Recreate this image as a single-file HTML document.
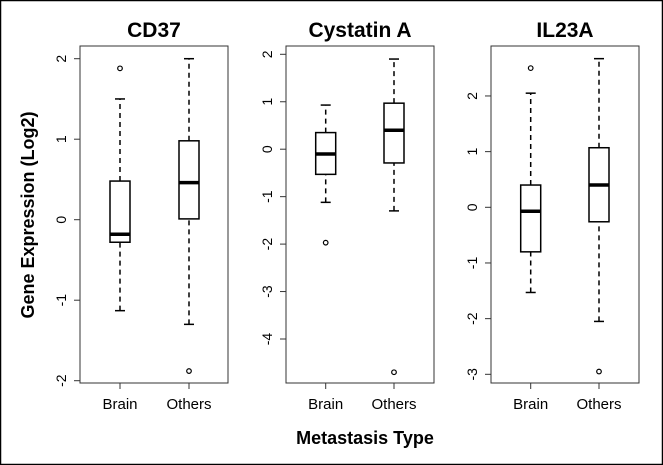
<!DOCTYPE html>
<html><head><meta charset="utf-8"><style>
html,body{margin:0;padding:0;background:#fff}
svg{display:block}
text{font-family:"Liberation Sans",sans-serif}
</style></head><body>
<svg id="c" width="663" height="465" viewBox="0 0 663 465" xmlns="http://www.w3.org/2000/svg">
<rect x="0.5" y="0.5" width="662" height="464" fill="#fff" stroke="#000" stroke-width="1.5"/>
<text x="34" y="215" transform="rotate(-90 34 215)" text-anchor="middle" font-size="18" font-weight="bold">Gene Expression (Log2)</text>
<text x="365" y="444" text-anchor="middle" font-size="18" font-weight="bold">Metastasis Type</text>
</svg>
<script>
const categories = ["Brain", "Others"];
const titles = ["CD37", "Cystatin A", "IL23A"];
const ticksCD37 = [-2, -1, 0, 1, 2];
const ticksCYS = [-4, -3, -2, -1, 0, 1, 2];
const ticksIL = [-3, -2, -1, 0, 1, 2];
// [lowWhisker, Q1, median, Q3, highWhisker]
const statsCD37 = [[-1.13, -0.28, -0.18, 0.48, 1.5], [-1.3, 0.01, 0.46, 0.98, 2.0]];
const statsCYS = [[-1.12, -0.53, -0.1, 0.35, 0.93], [-1.3, -0.29, 0.4, 0.97, 1.9]];
const statsIL = [[-1.53, -0.8, -0.07, 0.4, 2.05], [-2.05, -0.26, 0.4, 1.07, 2.67]];
const outCD37 = [[1.88], [-1.88]];
const outCYS = [[-1.97], [-4.7]];
const outIL = [[2.5], [-2.95]];

const svg = document.getElementById('c');
const NS = 'http://www.w3.org/2000/svg';
function mk(tag, attrs) { const e = document.createElementNS(NS, tag); for (const k in attrs) e.setAttribute(k, attrs[k]); svg.appendChild(e); return e; }

const panels = [
  {x0: 80, x1: 228, zero: 219.7, ppu: 80.5, ticks: ticksCD37, stats: statsCD37, outs: outCD37, xs: [120, 189]},
  {x0: 286, x1: 434, zero: 149.2, ppu: 47.45, ticks: ticksCYS, stats: statsCYS, outs: outCYS, xs: [325.7, 394]},
  {x0: 491, x1: 639, zero: 207.3, ppu: 55.67, ticks: ticksIL, stats: statsIL, outs: outIL, xs: [530.7, 599]}
];
const plotTop = 46, plotBot = 383, hw = 10;
panels.forEach((p, i) => {
  const y = v => p.zero - v * p.ppu;
  const fr = mk('rect', {x: p.x0, y: plotTop, width: p.x1 - p.x0, height: plotBot - plotTop, fill: 'none', stroke: '#333', 'stroke-width': 1});
  
  
  const t = mk('text', {x: (p.x0 + p.x1) / 2, y: 37, 'text-anchor': 'middle', 'font-size': 21, 'font-weight': 'bold'});
  t.textContent = titles[i];
  
  
  p.ticks.forEach(v => {
    const tk = mk('line', {x1: p.x0 - 6, x2: p.x0, y1: y(v), y2: y(v), stroke: '#333'});
    
    
    const lx = p.x0 - 14;
    const tl = mk('text', {x: lx, y: y(v), 'text-anchor': 'middle', 'font-size': 14, transform: `rotate(-90 ${lx} ${y(v)})`});
    tl.textContent = v;
    
    
  });
  categories.forEach((c, j) => {
    const cx = p.xs[j], s = p.stats[j];
    const xt = mk('line', {x1: cx, x2: cx, y1: plotBot, y2: plotBot + 6, stroke: '#333'});
    
    
    const xl = mk('text', {x: cx, y: 409, 'text-anchor': 'middle', 'font-size': 15});
    xl.textContent = c;
    
    
    const w1 = mk('line', {x1: cx, x2: cx, y1: y(s[0]), y2: y(s[1]), stroke: '#000', 'stroke-width': 1.5, 'stroke-dasharray': '5,4'});
    
    
    const w2 = mk('line', {x1: cx, x2: cx, y1: y(s[3]), y2: y(s[4]), stroke: '#000', 'stroke-width': 1.5, 'stroke-dasharray': '5,4'});
    
    
    [s[0], s[4]].forEach(v => {
      const cap = mk('line', {x1: cx - 5, x2: cx + 5, y1: y(v), y2: y(v), stroke: '#000', 'stroke-width': 1.5});
      
      
    });
    const b = mk('rect', {x: cx - hw, y: y(s[3]), width: 2 * hw, height: y(s[1]) - y(s[3]), fill: '#fff', stroke: '#000', 'stroke-width': 1.5});
    
    
    const m = mk('line', {x1: cx - hw, x2: cx + hw, y1: y(s[2]), y2: y(s[2]), stroke: '#000', 'stroke-width': 3.5});
    
    
    p.outs[j].forEach(v => {
      const o = mk('circle', {cx: cx, cy: y(v), r: 2.3, fill: 'none', stroke: '#000', 'stroke-width': 1.2});
      
      
    });
  });
});
</script>
</body></html>
